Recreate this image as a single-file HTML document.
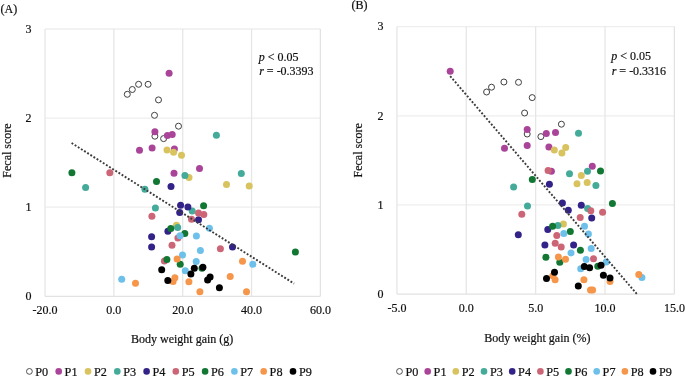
<!DOCTYPE html>
<html><head><meta charset="utf-8"><style>
html,body{margin:0;padding:0;background:#fff;}
svg{display:block;will-change:transform;filter:blur(0.3px);}
text{font-family:"Liberation Serif",serif;font-size:12px;fill:#111;stroke:#111;stroke-width:0.2px;}
</style></head><body>
<svg width="685" height="376" viewBox="0 0 685 376">
<rect width="685" height="376" fill="#fff"/>
<line x1="45.0" y1="29.0" x2="320.4" y2="29.0" stroke="#EEEEEE" stroke-width="1.3"/>
<line x1="45.0" y1="118.1" x2="320.4" y2="118.1" stroke="#EEEEEE" stroke-width="1.3"/>
<line x1="45.0" y1="207.2" x2="320.4" y2="207.2" stroke="#EEEEEE" stroke-width="1.3"/>
<line x1="113.85" y1="29.0" x2="113.85" y2="296.3" stroke="#E6E6E6" stroke-width="1.3"/>
<line x1="182.7" y1="29.0" x2="182.7" y2="296.3" stroke="#E6E6E6" stroke-width="1.3"/>
<line x1="251.55" y1="29.0" x2="251.55" y2="296.3" stroke="#E6E6E6" stroke-width="1.3"/>
<line x1="45.0" y1="29.0" x2="45.0" y2="296.3" stroke="#E6E6E6" stroke-width="1.3"/>
<line x1="320.4" y1="29.0" x2="320.4" y2="296.3" stroke="#E2E2E2" stroke-width="1.3"/>
<line x1="45.0" y1="296.3" x2="320.4" y2="296.3" stroke="#E2E2E2" stroke-width="1.3"/>
<circle cx="127.3" cy="94.3" r="3.0" fill="#fff" stroke="#404040" stroke-width="1"/>
<circle cx="132.3" cy="89.5" r="3.0" fill="#fff" stroke="#404040" stroke-width="1"/>
<circle cx="138.6" cy="84.3" r="3.0" fill="#fff" stroke="#404040" stroke-width="1"/>
<circle cx="148.1" cy="84.3" r="3.0" fill="#fff" stroke="#404040" stroke-width="1"/>
<circle cx="158.5" cy="99.9" r="3.0" fill="#fff" stroke="#404040" stroke-width="1"/>
<circle cx="154.5" cy="115.3" r="3.0" fill="#fff" stroke="#404040" stroke-width="1"/>
<circle cx="178.5" cy="126.2" r="3.0" fill="#fff" stroke="#404040" stroke-width="1"/>
<circle cx="154.9" cy="136.2" r="3.0" fill="#fff" stroke="#404040" stroke-width="1"/>
<circle cx="163.6" cy="138.6" r="3.0" fill="#fff" stroke="#404040" stroke-width="1"/>
<circle cx="169.1" cy="73.3" r="3.5" fill="#AA4499"/>
<circle cx="154.9" cy="131.7" r="3.5" fill="#AA4499"/>
<circle cx="167.4" cy="135.5" r="3.5" fill="#AA4499"/>
<circle cx="172.2" cy="134.6" r="3.5" fill="#AA4499"/>
<circle cx="139.5" cy="150.3" r="3.5" fill="#AA4499"/>
<circle cx="152.1" cy="148.1" r="3.5" fill="#AA4499"/>
<circle cx="174.4" cy="148.9" r="3.5" fill="#AA4499"/>
<circle cx="199.5" cy="168.6" r="3.5" fill="#AA4499"/>
<circle cx="174.0" cy="173.3" r="3.5" fill="#AA4499"/>
<circle cx="167.0" cy="149.9" r="3.5" fill="#D8C35F"/>
<circle cx="173.6" cy="152.3" r="3.5" fill="#D8C35F"/>
<circle cx="181.5" cy="155.2" r="3.5" fill="#D8C35F"/>
<circle cx="189.0" cy="177.6" r="3.5" fill="#D8C35F"/>
<circle cx="226.5" cy="184.6" r="3.5" fill="#D8C35F"/>
<circle cx="249.2" cy="186.1" r="3.5" fill="#D8C35F"/>
<circle cx="176.5" cy="225.3" r="3.5" fill="#D8C35F"/>
<circle cx="216.4" cy="135.2" r="3.5" fill="#44AA99"/>
<circle cx="184.9" cy="175.6" r="3.5" fill="#44AA99"/>
<circle cx="241.3" cy="173.5" r="3.5" fill="#44AA99"/>
<circle cx="85.6" cy="187.5" r="3.5" fill="#44AA99"/>
<circle cx="144.9" cy="189.2" r="3.5" fill="#44AA99"/>
<circle cx="155.4" cy="208.1" r="3.5" fill="#44AA99"/>
<circle cx="192.2" cy="211.0" r="3.5" fill="#44AA99"/>
<circle cx="177.7" cy="227.4" r="3.5" fill="#44AA99"/>
<circle cx="171.0" cy="186.4" r="3.5" fill="#332288"/>
<circle cx="180.6" cy="205.3" r="3.5" fill="#332288"/>
<circle cx="187.9" cy="207.0" r="3.5" fill="#332288"/>
<circle cx="179.7" cy="212.5" r="3.5" fill="#332288"/>
<circle cx="198.5" cy="219.8" r="3.5" fill="#332288"/>
<circle cx="167.9" cy="231.3" r="3.5" fill="#332288"/>
<circle cx="151.6" cy="236.7" r="3.5" fill="#332288"/>
<circle cx="151.6" cy="247.1" r="3.5" fill="#332288"/>
<circle cx="232.5" cy="247.1" r="3.5" fill="#332288"/>
<circle cx="109.8" cy="172.8" r="3.5" fill="#CC6677"/>
<circle cx="151.9" cy="216.3" r="3.5" fill="#CC6677"/>
<circle cx="198.5" cy="213.1" r="3.5" fill="#CC6677"/>
<circle cx="203.8" cy="214.5" r="3.5" fill="#CC6677"/>
<circle cx="191.5" cy="219.3" r="3.5" fill="#CC6677"/>
<circle cx="177.9" cy="238.1" r="3.5" fill="#CC6677"/>
<circle cx="172.0" cy="245.3" r="3.5" fill="#CC6677"/>
<circle cx="220.4" cy="248.7" r="3.5" fill="#CC6677"/>
<circle cx="164.4" cy="261.1" r="3.5" fill="#CC6677"/>
<circle cx="71.9" cy="172.8" r="3.5" fill="#117733"/>
<circle cx="156.5" cy="181.6" r="3.5" fill="#117733"/>
<circle cx="203.6" cy="205.8" r="3.5" fill="#117733"/>
<circle cx="170.8" cy="228.6" r="3.5" fill="#117733"/>
<circle cx="184.8" cy="233.4" r="3.5" fill="#117733"/>
<circle cx="166.9" cy="259.4" r="3.5" fill="#117733"/>
<circle cx="180.2" cy="264.3" r="3.5" fill="#117733"/>
<circle cx="202.0" cy="268.3" r="3.5" fill="#117733"/>
<circle cx="295.4" cy="252.0" r="3.5" fill="#117733"/>
<circle cx="209.4" cy="228.2" r="3.5" fill="#6CC0EA"/>
<circle cx="180.0" cy="235.7" r="3.5" fill="#6CC0EA"/>
<circle cx="196.4" cy="236.0" r="3.5" fill="#6CC0EA"/>
<circle cx="200.4" cy="250.6" r="3.5" fill="#6CC0EA"/>
<circle cx="182.5" cy="255.1" r="3.5" fill="#6CC0EA"/>
<circle cx="196.2" cy="261.5" r="3.5" fill="#6CC0EA"/>
<circle cx="252.8" cy="264.2" r="3.5" fill="#6CC0EA"/>
<circle cx="185.3" cy="270.7" r="3.5" fill="#6CC0EA"/>
<circle cx="121.7" cy="279.3" r="3.5" fill="#6CC0EA"/>
<circle cx="177.1" cy="258.9" r="3.5" fill="#F5964A"/>
<circle cx="242.5" cy="261.3" r="3.5" fill="#F5964A"/>
<circle cx="230.2" cy="276.5" r="3.5" fill="#F5964A"/>
<circle cx="174.9" cy="277.7" r="3.5" fill="#F5964A"/>
<circle cx="173.1" cy="281.6" r="3.5" fill="#F5964A"/>
<circle cx="188.9" cy="281.8" r="3.5" fill="#F5964A"/>
<circle cx="135.5" cy="283.3" r="3.5" fill="#F5964A"/>
<circle cx="199.9" cy="291.7" r="3.5" fill="#F5964A"/>
<circle cx="246.5" cy="291.7" r="3.5" fill="#F5964A"/>
<circle cx="161.7" cy="269.7" r="3.5" fill="#000000"/>
<circle cx="194.3" cy="268.3" r="3.5" fill="#000000"/>
<circle cx="202.9" cy="267.2" r="3.5" fill="#000000"/>
<circle cx="190.9" cy="274.1" r="3.5" fill="#000000"/>
<circle cx="167.8" cy="280.4" r="3.5" fill="#000000"/>
<circle cx="210.1" cy="276.9" r="3.5" fill="#000000"/>
<circle cx="207.6" cy="280.0" r="3.5" fill="#000000"/>
<circle cx="219.4" cy="287.7" r="3.5" fill="#000000"/>
<line x1="71.6" y1="143.0" x2="294.1" y2="283.6" stroke="#3a3a3a" stroke-width="1.9" stroke-dasharray="1.9 1.8"/>
<line x1="396.95" y1="26.6" x2="674.4" y2="26.6" stroke="#EEEEEE" stroke-width="1.3"/>
<line x1="396.95" y1="115.8" x2="674.4" y2="115.8" stroke="#EEEEEE" stroke-width="1.3"/>
<line x1="396.95" y1="204.9" x2="674.4" y2="204.9" stroke="#EEEEEE" stroke-width="1.3"/>
<line x1="466.3" y1="26.6" x2="466.3" y2="294.1" stroke="#E6E6E6" stroke-width="1.3"/>
<line x1="535.65" y1="26.6" x2="535.65" y2="294.1" stroke="#E6E6E6" stroke-width="1.3"/>
<line x1="605.0" y1="26.6" x2="605.0" y2="294.1" stroke="#E6E6E6" stroke-width="1.3"/>
<line x1="396.95" y1="26.6" x2="396.95" y2="294.1" stroke="#E6E6E6" stroke-width="1.3"/>
<line x1="674.4" y1="26.6" x2="674.4" y2="294.1" stroke="#E2E2E2" stroke-width="1.3"/>
<line x1="396.95" y1="294.1" x2="674.4" y2="294.1" stroke="#E2E2E2" stroke-width="1.3"/>
<circle cx="486.6" cy="92.0" r="3.0" fill="#fff" stroke="#404040" stroke-width="1"/>
<circle cx="491.5" cy="87.2" r="3.0" fill="#fff" stroke="#404040" stroke-width="1"/>
<circle cx="503.9" cy="82.0" r="3.0" fill="#fff" stroke="#404040" stroke-width="1"/>
<circle cx="518.5" cy="82.3" r="3.0" fill="#fff" stroke="#404040" stroke-width="1"/>
<circle cx="532.2" cy="97.6" r="3.0" fill="#fff" stroke="#404040" stroke-width="1"/>
<circle cx="524.6" cy="113.0" r="3.0" fill="#fff" stroke="#404040" stroke-width="1"/>
<circle cx="527.2" cy="134.0" r="3.0" fill="#fff" stroke="#404040" stroke-width="1"/>
<circle cx="540.9" cy="136.6" r="3.0" fill="#fff" stroke="#404040" stroke-width="1"/>
<circle cx="561.4" cy="124.2" r="3.0" fill="#fff" stroke="#404040" stroke-width="1"/>
<circle cx="450.2" cy="71.3" r="3.5" fill="#AA4499"/>
<circle cx="527.2" cy="129.6" r="3.5" fill="#AA4499"/>
<circle cx="527.2" cy="145.5" r="3.5" fill="#AA4499"/>
<circle cx="504.5" cy="148.3" r="3.5" fill="#AA4499"/>
<circle cx="546.3" cy="133.5" r="3.5" fill="#AA4499"/>
<circle cx="555.5" cy="132.5" r="3.5" fill="#AA4499"/>
<circle cx="548.9" cy="146.9" r="3.5" fill="#AA4499"/>
<circle cx="551.4" cy="171.3" r="3.5" fill="#AA4499"/>
<circle cx="592.3" cy="166.2" r="3.5" fill="#AA4499"/>
<circle cx="554.3" cy="150.1" r="3.5" fill="#D8C35F"/>
<circle cx="565.7" cy="147.5" r="3.5" fill="#D8C35F"/>
<circle cx="561.9" cy="152.9" r="3.5" fill="#D8C35F"/>
<circle cx="581.3" cy="175.5" r="3.5" fill="#D8C35F"/>
<circle cx="577.0" cy="183.7" r="3.5" fill="#D8C35F"/>
<circle cx="587.2" cy="182.6" r="3.5" fill="#D8C35F"/>
<circle cx="563.4" cy="224.0" r="3.5" fill="#D8C35F"/>
<circle cx="578.5" cy="133.2" r="3.5" fill="#44AA99"/>
<circle cx="569.5" cy="173.7" r="3.5" fill="#44AA99"/>
<circle cx="587.5" cy="171.3" r="3.5" fill="#44AA99"/>
<circle cx="595.9" cy="185.6" r="3.5" fill="#44AA99"/>
<circle cx="513.6" cy="186.9" r="3.5" fill="#44AA99"/>
<circle cx="527.5" cy="205.9" r="3.5" fill="#44AA99"/>
<circle cx="587.6" cy="208.6" r="3.5" fill="#44AA99"/>
<circle cx="557.9" cy="225.5" r="3.5" fill="#44AA99"/>
<circle cx="549.4" cy="184.3" r="3.5" fill="#332288"/>
<circle cx="562.4" cy="203.1" r="3.5" fill="#332288"/>
<circle cx="568.3" cy="210.2" r="3.5" fill="#332288"/>
<circle cx="581.3" cy="205.2" r="3.5" fill="#332288"/>
<circle cx="591.7" cy="217.9" r="3.5" fill="#332288"/>
<circle cx="518.3" cy="234.7" r="3.5" fill="#332288"/>
<circle cx="547.8" cy="229.6" r="3.5" fill="#332288"/>
<circle cx="544.9" cy="244.9" r="3.5" fill="#332288"/>
<circle cx="573.6" cy="244.9" r="3.5" fill="#332288"/>
<circle cx="548.1" cy="170.6" r="3.5" fill="#CC6677"/>
<circle cx="521.8" cy="214.3" r="3.5" fill="#CC6677"/>
<circle cx="590.8" cy="210.7" r="3.5" fill="#CC6677"/>
<circle cx="602.6" cy="212.3" r="3.5" fill="#CC6677"/>
<circle cx="580.2" cy="217.4" r="3.5" fill="#CC6677"/>
<circle cx="556.8" cy="235.6" r="3.5" fill="#CC6677"/>
<circle cx="555.2" cy="243.3" r="3.5" fill="#CC6677"/>
<circle cx="561.2" cy="247.1" r="3.5" fill="#CC6677"/>
<circle cx="593.5" cy="258.8" r="3.5" fill="#CC6677"/>
<circle cx="532.3" cy="179.5" r="3.5" fill="#117733"/>
<circle cx="600.5" cy="170.9" r="3.5" fill="#117733"/>
<circle cx="612.4" cy="203.6" r="3.5" fill="#117733"/>
<circle cx="552.6" cy="226.3" r="3.5" fill="#117733"/>
<circle cx="570.3" cy="231.6" r="3.5" fill="#117733"/>
<circle cx="580.4" cy="250.2" r="3.5" fill="#117733"/>
<circle cx="545.9" cy="257.2" r="3.5" fill="#117733"/>
<circle cx="559.8" cy="262.3" r="3.5" fill="#117733"/>
<circle cx="597.8" cy="266.2" r="3.5" fill="#117733"/>
<circle cx="584.5" cy="226.2" r="3.5" fill="#6CC0EA"/>
<circle cx="563.8" cy="233.5" r="3.5" fill="#6CC0EA"/>
<circle cx="588.4" cy="234.0" r="3.5" fill="#6CC0EA"/>
<circle cx="591.2" cy="248.6" r="3.5" fill="#6CC0EA"/>
<circle cx="571.0" cy="252.9" r="3.5" fill="#6CC0EA"/>
<circle cx="586.1" cy="259.5" r="3.5" fill="#6CC0EA"/>
<circle cx="606.2" cy="262.0" r="3.5" fill="#6CC0EA"/>
<circle cx="580.7" cy="268.8" r="3.5" fill="#6CC0EA"/>
<circle cx="641.9" cy="277.5" r="3.5" fill="#6CC0EA"/>
<circle cx="558.4" cy="256.9" r="3.5" fill="#F5964A"/>
<circle cx="565.5" cy="259.3" r="3.5" fill="#F5964A"/>
<circle cx="552.8" cy="275.8" r="3.5" fill="#F5964A"/>
<circle cx="555.1" cy="279.8" r="3.5" fill="#F5964A"/>
<circle cx="583.9" cy="279.7" r="3.5" fill="#F5964A"/>
<circle cx="610.0" cy="281.6" r="3.5" fill="#F5964A"/>
<circle cx="638.8" cy="274.4" r="3.5" fill="#F5964A"/>
<circle cx="590.5" cy="290.1" r="3.5" fill="#F5964A"/>
<circle cx="592.6" cy="290.1" r="3.5" fill="#F5964A"/>
<circle cx="554.5" cy="272.2" r="3.5" fill="#000000"/>
<circle cx="546.5" cy="278.4" r="3.5" fill="#000000"/>
<circle cx="584.3" cy="266.5" r="3.5" fill="#000000"/>
<circle cx="589.6" cy="267.8" r="3.5" fill="#000000"/>
<circle cx="601.0" cy="265.3" r="3.5" fill="#000000"/>
<circle cx="603.4" cy="275.2" r="3.5" fill="#000000"/>
<circle cx="610.0" cy="277.9" r="3.5" fill="#000000"/>
<circle cx="578.3" cy="285.9" r="3.5" fill="#000000"/>
<line x1="450.2" y1="76.1" x2="636.9" y2="294.1" stroke="#3a3a3a" stroke-width="1.9" stroke-dasharray="1.9 1.8"/>
<text x="0.5" y="13.3">(A)</text>
<text x="351.4" y="9.0">(B)</text>
<text x="31.6" y="32.6" text-anchor="end">3</text>
<text x="31.6" y="121.7" text-anchor="end">2</text>
<text x="31.6" y="210.8" text-anchor="end">1</text>
<text x="31.6" y="299.9" text-anchor="end">0</text>
<text x="383.4" y="30.3" text-anchor="end">3</text>
<text x="383.4" y="119.5" text-anchor="end">2</text>
<text x="383.4" y="208.6" text-anchor="end">1</text>
<text x="383.4" y="297.8" text-anchor="end">0</text>
<text x="45.00" y="314.0" text-anchor="middle">-20.0</text>
<text x="113.85" y="314.0" text-anchor="middle">0.0</text>
<text x="182.70" y="314.0" text-anchor="middle">20.0</text>
<text x="251.55" y="314.0" text-anchor="middle">40.0</text>
<text x="320.40" y="314.0" text-anchor="middle">60.0</text>
<text x="396.95" y="312.0" text-anchor="middle">-5.0</text>
<text x="466.30" y="312.0" text-anchor="middle">0.0</text>
<text x="535.65" y="312.0" text-anchor="middle">5.0</text>
<text x="605.00" y="312.0" text-anchor="middle">10.0</text>
<text x="674.40" y="312.0" text-anchor="middle">15.0</text>
<text transform="translate(11,150.5) rotate(-90)" text-anchor="middle">Fecal score</text>
<text transform="translate(362,150.3) rotate(-90)" text-anchor="middle">Fecal score</text>
<text x="131" y="343.0">Body weight gain (g)</text>
<text x="484.2" y="341.6">Body weight gain (%)</text>
<text x="258.7" y="60.8"><tspan font-style="italic">p</tspan> &lt; 0.05</text>
<text x="259.2" y="74.8"><tspan font-style="italic">r</tspan> = -0.3393</text>
<text x="611.2" y="60.2"><tspan font-style="italic">p</tspan> &lt; 0.05</text>
<text x="611.7" y="74.6"><tspan font-style="italic">r</tspan> = -0.3316</text>
<circle cx="29.4" cy="371.4" r="2.9" fill="#fff" stroke="#404040" stroke-width="0.9"/>
<text transform="translate(35.3,375.9) scale(1.02,1.12)">P0</text>
<circle cx="58.7" cy="371.4" r="3.3" fill="#AA4499"/>
<text transform="translate(64.6,375.9) scale(1.02,1.12)">P1</text>
<circle cx="88.0" cy="371.4" r="3.3" fill="#D8C35F"/>
<text transform="translate(93.9,375.9) scale(1.02,1.12)">P2</text>
<circle cx="117.3" cy="371.4" r="3.3" fill="#44AA99"/>
<text transform="translate(123.2,375.9) scale(1.02,1.12)">P3</text>
<circle cx="146.6" cy="371.4" r="3.3" fill="#332288"/>
<text transform="translate(152.5,375.9) scale(1.02,1.12)">P4</text>
<circle cx="175.8" cy="371.4" r="3.3" fill="#CC6677"/>
<text transform="translate(181.8,375.9) scale(1.02,1.12)">P5</text>
<circle cx="205.1" cy="371.4" r="3.3" fill="#117733"/>
<text transform="translate(211.0,375.9) scale(1.02,1.12)">P6</text>
<circle cx="234.4" cy="371.4" r="3.3" fill="#6CC0EA"/>
<text transform="translate(240.3,375.9) scale(1.02,1.12)">P7</text>
<circle cx="263.7" cy="371.4" r="3.3" fill="#F5964A"/>
<text transform="translate(269.6,375.9) scale(1.02,1.12)">P8</text>
<circle cx="293.0" cy="371.4" r="3.3" fill="#000000"/>
<text transform="translate(298.9,375.9) scale(1.02,1.12)">P9</text>
<circle cx="399.5" cy="371.4" r="2.9" fill="#fff" stroke="#404040" stroke-width="0.9"/>
<text transform="translate(405.4,375.9) scale(1.02,1.12)">P0</text>
<circle cx="427.7" cy="371.4" r="3.3" fill="#AA4499"/>
<text transform="translate(433.6,375.9) scale(1.02,1.12)">P1</text>
<circle cx="455.8" cy="371.4" r="3.3" fill="#D8C35F"/>
<text transform="translate(461.7,375.9) scale(1.02,1.12)">P2</text>
<circle cx="484.0" cy="371.4" r="3.3" fill="#44AA99"/>
<text transform="translate(489.9,375.9) scale(1.02,1.12)">P3</text>
<circle cx="512.2" cy="371.4" r="3.3" fill="#332288"/>
<text transform="translate(518.1,375.9) scale(1.02,1.12)">P4</text>
<circle cx="540.4" cy="371.4" r="3.3" fill="#CC6677"/>
<text transform="translate(546.2,375.9) scale(1.02,1.12)">P5</text>
<circle cx="568.5" cy="371.4" r="3.3" fill="#117733"/>
<text transform="translate(574.4,375.9) scale(1.02,1.12)">P6</text>
<circle cx="596.7" cy="371.4" r="3.3" fill="#6CC0EA"/>
<text transform="translate(602.6,375.9) scale(1.02,1.12)">P7</text>
<circle cx="624.9" cy="371.4" r="3.3" fill="#F5964A"/>
<text transform="translate(630.8,375.9) scale(1.02,1.12)">P8</text>
<circle cx="653.0" cy="371.4" r="3.3" fill="#000000"/>
<text transform="translate(658.9,375.9) scale(1.02,1.12)">P9</text>
</svg>
</body></html>
